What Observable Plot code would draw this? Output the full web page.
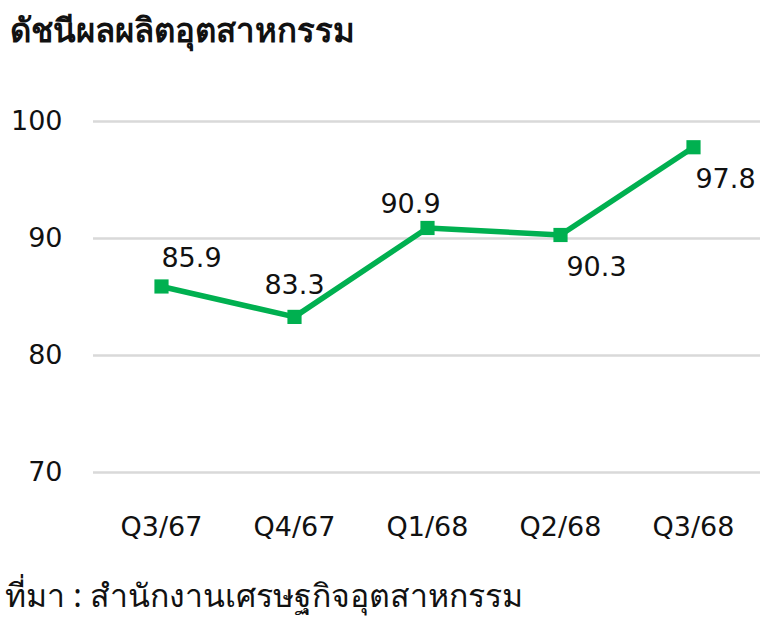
<!DOCTYPE html>
<html>
<head>
<meta charset="utf-8">
<script src="https://cdn.jsdelivr.net/npm/d3@7"></script>
<script src="https://cdn.jsdelivr.net/npm/@observablehq/plot@0.6"></script>
<style>
  html, body { margin: 0; padding: 0; background: #fff; }
  body { width: 772px; font-family: "Noto Sans", "Open Sans", sans-serif; }
  #title { height: 60px; box-sizing: border-box; padding: 6px 0 0 10px; font-size: 33px; font-weight: bold; color: #111; line-height: 48px; }
  #caption { padding: 14px 0 0 5px; font-size: 32px; color: #111; line-height: 42px; }
</style>
</head>
<body>
<div id="title">ดัชนีผลผลิตอุตสาหกรรม</div>
<div id="chart"></div>
<div id="caption">ที่มา : สำนักงานเศรษฐกิจอุตสาหกรรม</div>
<script>
const quarters = ["Q3/67", "Q4/67", "Q1/68", "Q2/68", "Q3/68"];
const values = [85.9, 83.3, 90.9, 90.3, 97.8];
const yTicks = [70, 80, 90, 100];
// label placement relative to each point (dx, dy in px)
const labelDx = [30, 0, -17, 36, 32];
const labelDy = [-28, -32, -24, 32, 32];

const data = quarters.map((q, i) => ({q, v: values[i], dx: labelDx[i], dy: labelDy[i]}));
const green = "#00B050";
const numFont = "'DejaVu Sans', 'Noto Sans', sans-serif";

const chart = Plot.plot({
  width: 772,
  height: 500,
  marginTop: 61,
  marginBottom: 88,
  marginLeft: 93,
  marginRight: 12,
  style: {fontFamily: numFont, fontSize: "27px", color: "#111"},
  x: {type: "point", domain: quarters, padding: 0.5, label: null},
  y: {domain: [70, 100], label: null},
  marks: [
    Plot.ruleY(yTicks, {stroke: "#d9d9d9", strokeWidth: 2.5}),
    Plot.axisY({ticks: yTicks, tickSize: 0, tickPadding: 31, label: null, fontSize: 27, textAnchor: "end"}),
    Plot.axisX({tickSize: 0, tickPadding: 44, label: null, fontSize: 27}),
    Plot.line(data, {x: "q", y: "v", stroke: green, strokeWidth: 5.5}),
    Plot.dot(data, {x: "q", y: "v", symbol: "square", fill: green, r: 8}),
    ...data.map(d => Plot.text([d], {x: "q", y: "v", text: e => e.v.toFixed(1), dx: d.dx, dy: d.dy, fontSize: 27, fill: "#111"}))
  ]
});
document.getElementById("chart").appendChild(chart);
</script>
</body>
</html>
